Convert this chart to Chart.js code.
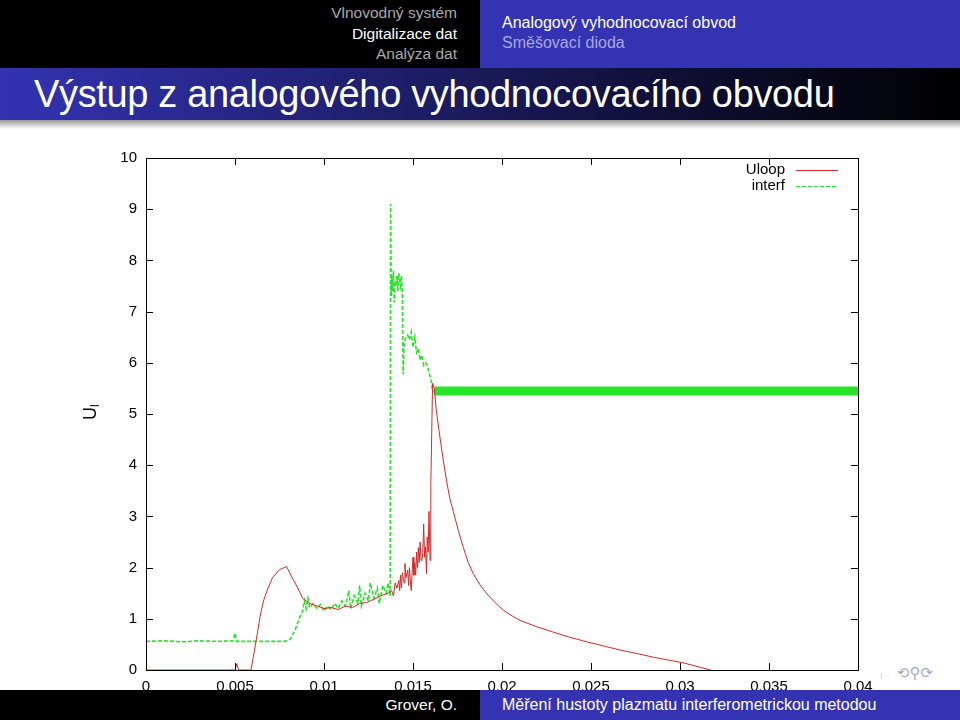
<!DOCTYPE html>
<html>
<head>
<meta charset="utf-8">
<script src="https://cdn.jsdelivr.net/npm/chart.js@4/dist/chart.umd.min.js"></script>
<style>
body { margin: 0; width: 960px; height: 720px; position: relative; overflow: hidden; background: #fff; font-family: "Liberation Sans", Arial, sans-serif; }
.box { position: absolute; }
#headL { left: 0; top: 0; width: 480px; height: 68px; background: #000; }
#headR { left: 480px; top: 0; width: 480px; height: 68px; background: #3333b3; }
#headL div { position: absolute; right: 23px; font-size: 15.5px; line-height: 20px; white-space: nowrap; }
#headR div { position: absolute; left: 22px; font-size: 16px; line-height: 20px; white-space: nowrap; }
#titleBar { left: 0; top: 68px; width: 960px; height: 52px; background: linear-gradient(to right, #3333b3, #000); }
#titleBar span { position: absolute; left: 34px; top: 5px; font-size: 38px; letter-spacing: -0.35px; color: #fff; white-space: nowrap; }
#shade { left: 0; top: 120px; width: 960px; height: 9px; background: linear-gradient(to bottom, #999, #fff); }
#footL { left: 0; top: 690px; width: 480px; height: 30px; background: #000; z-index: 2; }
#footR { left: 480px; top: 690px; width: 480px; height: 30px; background: #3333b3; z-index: 2; }
#footL span { position: absolute; right: 23px; top: 6px; font-size: 15.5px; color: #fff; }
#footR span { position: absolute; left: 22px; top: 6px; font-size: 16px; color: #fff; white-space: nowrap; }
#nav { left: 880px; top: 664px; font-family: "DejaVu Sans"; font-size: 15px; color: #a8a8c8; white-space: nowrap; }
#chart { position: absolute; left: 0; top: 140px; z-index: 1; }
</style>
</head>
<body>
<div class="box" id="headL">
  <div style="top:3px;color:#aaa">Vlnovodný systém</div>
  <div style="top:24px;color:#fff">Digitalizace dat</div>
  <div style="top:44px;color:#aaa">Analýza dat</div>
</div>
<div class="box" id="headR">
  <div style="top:13px;color:#fff">Analogový vyhodnocovací obvod</div>
  <div style="top:33px;color:#a8a8e0">Směšovací dioda</div>
</div>
<div class="box" id="titleBar"><span>Výstup z analogového vyhodnocovacího obvodu</span></div>
<div class="box" id="shade"></div>
<canvas id="chart" width="960" height="560"></canvas>
<div class="box" id="nav"><span style="font-size:8px">⁝</span>&nbsp;&nbsp; ⟲⚲⟳</div>
<div class="box" id="footL"><span>Grover, O.</span></div>
<div class="box" id="footR"><span>Měření hustoty plazmatu interferometrickou metodou</span></div>

<script>
// axis ticks
const xTicks = [0, 0.005, 0.01, 0.015, 0.02, 0.025, 0.03, 0.035, 0.04]
const yTicks = [0, 1, 2, 3, 4, 5, 6, 7, 8, 9, 10]

const seriesNames = ['Uloop', 'interf']

// Uloop  [t, U]
const uloop = [
  [0, 0], [0.0050, 0], [0.0051, 0.12], [0.0052, 0], [0.0059, 0], [0.0062, 0.6], [0.0064, 1.03],
  [0.0066, 1.35], [0.0068, 1.55], [0.0071, 1.8], [0.0075, 1.96], [0.0079, 2.02], [0.0082, 1.81],
  [0.0085, 1.62], [0.0088, 1.4], [0.0092, 1.3], [0.0096, 1.25], [0.01, 1.2], [0.0104, 1.22],
  [0.0108, 1.18], [0.0112, 1.25], [0.0116, 1.22], [0.012, 1.3], [0.0124, 1.32], [0.0128, 1.38],
  [0.0132, 1.45], [0.0136, 1.5], [0.0138, 1.55], [0.0139, 1.45], [0.014, 1.7], [0.0141, 1.6],
  [0.0142, 1.75], [0.01425, 1.55], [0.0143, 1.85], [0.01435, 1.6], [0.0144, 1.9], [0.0145, 1.7],
  [0.01455, 2.08], [0.0146, 1.8], [0.0147, 1.95], [0.01475, 1.65], [0.0148, 2.0], [0.01485, 1.75],
  [0.0149, 1.55], [0.01495, 1.9], [0.015, 2.2], [0.01505, 1.85], [0.0151, 2.1], [0.01515, 1.85],
  [0.0152, 2.3], [0.01525, 2.0], [0.0153, 2.39], [0.01535, 2.1], [0.0154, 2.5], [0.01545, 2.15],
  [0.0155, 2.14], [0.01555, 2.3], [0.0156, 2.85], [0.01565, 2.2], [0.0157, 2.4], [0.01576, 1.88],
  [0.0158, 2.6], [0.01585, 2.3], [0.0159, 3.1], [0.01596, 2.14], [0.016, 3.6], [0.01605, 4.6],
  [0.0161, 5.6], [0.0162, 5.5], [0.0163, 5.1], [0.01652, 4.53], [0.0167, 4.1], [0.01689, 3.69],
  [0.01705, 3.38], [0.01726, 3.1], [0.01755, 2.72], [0.01783, 2.39], [0.0181, 2.1], [0.01839, 1.88],
  [0.01875, 1.67], [0.01914, 1.49], [0.0196, 1.32], [0.02007, 1.17], [0.0205, 1.07], [0.02101, 0.97],
  [0.0219, 0.85], [0.02288, 0.74], [0.0238, 0.64], [0.02476, 0.55], [0.0257, 0.47], [0.02663, 0.39],
  [0.0276, 0.32], [0.0285, 0.25], [0.0294, 0.19], [0.03019, 0.14], [0.0317, 0], [0.034, -0.3], [0.04, -0.8]
]

// interf  [t, U]
const interf = [
  [0, 0.56], [0.001, 0.57], [0.002, 0.55], [0.003, 0.57], [0.004, 0.56], [0.0049, 0.57], [0.005, 0.72],
  [0.0051, 0.56], [0.0068, 0.56], [0.0078, 0.56], [0.0081, 0.6], [0.0084, 0.8], [0.0086, 1.0],
  [0.0088, 1.15], [0.0089, 1.35], [0.009, 1.2], [0.0091, 1.4], [0.0092, 1.22], [0.0094, 1.3],
  [0.0096, 1.2], [0.0098, 1.28], [0.01, 1.15], [0.0102, 1.25], [0.0104, 1.18], [0.0106, 1.3],
  [0.0108, 1.2], [0.011, 1.35], [0.0112, 1.25], [0.0114, 1.55], [0.0115, 1.2], [0.0117, 1.45],
  [0.0119, 1.3], [0.012, 1.65], [0.0121, 1.25], [0.0123, 1.5], [0.0125, 1.35], [0.0126, 1.7],
  [0.0128, 1.4], [0.013, 1.6], [0.0131, 1.3], [0.0133, 1.65], [0.0135, 1.5], [0.0136, 1.7],
  [0.01372, 1.45], [0.01374, 9.1], [0.01378, 7.3], [0.0138, 7.7], [0.01385, 7.4], [0.0139, 7.8],
  [0.01395, 7.18], [0.014, 7.6], [0.01405, 7.5], [0.0141, 7.7], [0.01415, 7.4], [0.0142, 7.75],
  [0.0143, 7.5], [0.01435, 7.7], [0.0144, 7.38], [0.01445, 5.77], [0.0145, 6.35], [0.0146, 6.5],
  [0.0147, 6.54], [0.0148, 6.45], [0.0149, 6.6], [0.015, 6.3], [0.0151, 6.5], [0.0152, 6.2],
  [0.0153, 6.28], [0.0154, 6.05], [0.0155, 6.15], [0.0156, 5.95], [0.0157, 6.0], [0.0158, 5.96],
  [0.0159, 5.8], [0.016, 5.7], [0.0161, 5.45], [0.0162, 5.45]
]

// interf after the peak: dense oscillation, drawn as a band
const interfBand = [[0.0162, 5.45], [0.04, 5.45]]

const red = 'rgb(214, 40, 40)'
const green = 'rgb(40, 228, 40)'

const toXY = arr => arr.map(p => ({x: p[0], y: p[1]}))

const frame = {
  id: 'frame',
  afterDatasetsDraw(chart) {
    const ctx = chart.ctx
    const a = chart.chartArea
    const xs = chart.scales.x
    const ys = chart.scales.y
    ctx.save()
    ctx.strokeStyle = '#000'
    ctx.lineWidth = 1
    ctx.strokeRect(a.left + 0.5, a.top + 0.5, a.right - a.left, a.bottom - a.top)
    ctx.beginPath()
    xTicks.forEach(v => {
      const px = Math.round(xs.getPixelForValue(v)) + 0.5
      ctx.moveTo(px, a.bottom); ctx.lineTo(px, a.bottom - 7)
      ctx.moveTo(px, a.top); ctx.lineTo(px, a.top + 7)
    })
    yTicks.forEach(v => {
      const py = Math.round(ys.getPixelForValue(v)) + 0.5
      ctx.moveTo(a.left, py); ctx.lineTo(a.left + 7, py)
      ctx.moveTo(a.right, py); ctx.lineTo(a.right - 7, py)
    })
    ctx.stroke()

    // legend inside the plot
    ctx.font = '15px "Liberation Sans", Arial, sans-serif'
    ctx.textAlign = 'right'
    ctx.textBaseline = 'middle'
    ctx.fillStyle = '#000'
    const rows = [170, 186]
    chart.data.datasets.slice(0, 2).forEach((ds, i) => {
      const y = rows[i] - 140
      ctx.fillText(ds.label, 785, y)
      ctx.beginPath()
      ctx.strokeStyle = ds.borderColor
      ctx.lineWidth = 1
      ctx.setLineDash(ds.borderDash || [])
      ctx.moveTo(796, y + 0.5); ctx.lineTo(838, y + 0.5)
      ctx.stroke()
    })
    ctx.setLineDash([])

    // y axis title U_l
    ctx.translate(96, 412 - 140)
    ctx.rotate(-Math.PI / 2)
    ctx.textAlign = 'left'
    ctx.textBaseline = 'alphabetic'
    ctx.font = '18px "Liberation Sans", Arial, sans-serif'
    ctx.fillText('U', -8, 0)
    ctx.font = '12px "Liberation Sans", Arial, sans-serif'
    ctx.fillText('l', 5, 3)
    ctx.restore()
  }
}

new Chart(document.getElementById('chart'), {
  type: 'line',
  data: {
    datasets: [
      {label: seriesNames[0], data: toXY(uloop), borderColor: red, borderWidth: 1, pointRadius: 0, tension: 0},
      {label: seriesNames[1], data: toXY(interf), borderColor: green, borderWidth: 1.6, borderDash: [4, 2], pointRadius: 0, tension: 0},
      {label: '', data: toXY(interfBand), borderColor: green, borderWidth: 9, pointRadius: 0, tension: 0}
    ]
  },
  options: {
    responsive: false,
    animation: false,
    layout: {padding: {top: 15, right: 102, bottom: 0, left: 0}},
    plugins: {legend: {display: false}, tooltip: {enabled: false}},
    scales: {
      x: {
        type: 'linear', min: 0, max: 0.04,
        grid: {display: false, drawTicks: false},
        border: {display: false},
        afterBuildTicks: s => { s.ticks = xTicks.map(v => ({value: v})) },
        afterFit: s => { s.height = 30 },
        ticks: {
          color: '#000', padding: 8, autoSkip: false, maxRotation: 0,
          font: {family: '"Liberation Sans", Arial, sans-serif', size: 15},
          callback: v => String(+v.toFixed(3))
        }
      },
      y: {
        type: 'linear', min: 0, max: 10,
        grid: {display: false, drawTicks: false},
        border: {display: false},
        afterBuildTicks: s => { s.ticks = yTicks.map(v => ({value: v})) },
        afterFit: s => { s.width = 146 },
        ticks: {
          color: '#000', padding: 9,
          font: {family: '"Liberation Sans", Arial, sans-serif', size: 15}
        }
      }
    }
  },
  plugins: [frame]
})
</script>
</body>
</html>
